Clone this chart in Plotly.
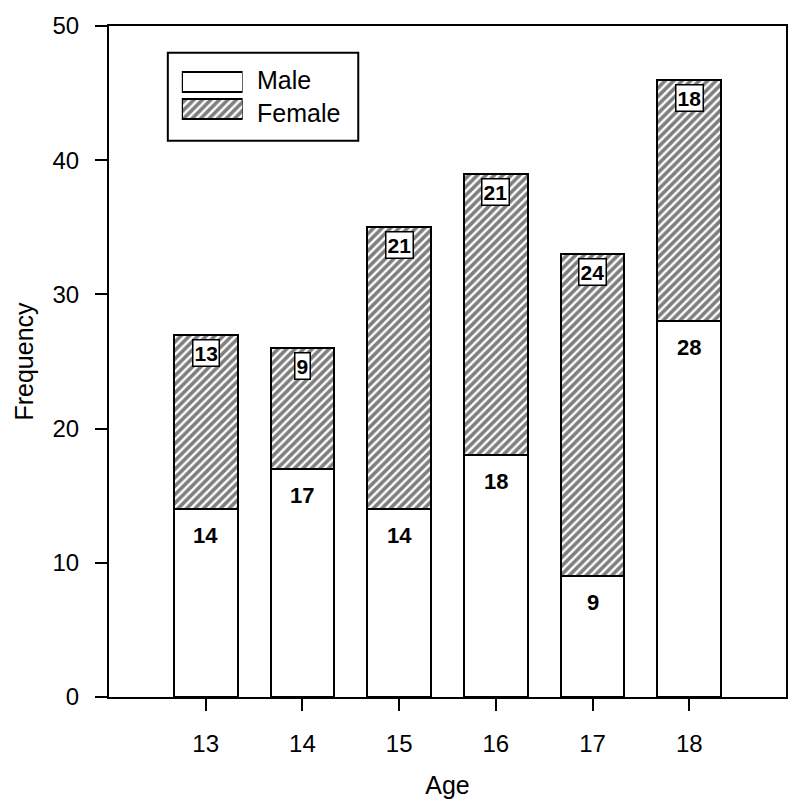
import plotly.graph_objects as go

ages = [13, 14, 15, 16, 17, 18]
male = [14, 17, 14, 18, 9, 28]
female = [13, 9, 21, 21, 24, 18]
legend_names = ["Male", "Female"]
y_ticks = [0, 10, 20, 30, 40, 50]

FONT = "Liberation Sans, Arial, sans-serif"
hatch = dict(shape="/", fgcolor="black", bgcolor="white", size=6, solidity=0.6)

fig = go.Figure()
fig.add_trace(go.Bar(x=ages, y=male, width=0.66, marker=dict(color="white", line=dict(color="black", width=2)),
                     showlegend=False, hoverinfo="skip"))
fig.add_trace(go.Bar(x=ages, y=female, width=0.66,
                     marker=dict(color="white", pattern=hatch, line=dict(color="black", width=2)),
                     showlegend=False, hoverinfo="skip"))

# legend swatches on a small inset axis
fig.add_trace(go.Bar(y=[legend_names[0]], x=[1], orientation="h", width=0.74, xaxis="x2", yaxis="y2",
                     marker=dict(color="white", line=dict(color="black", width=2)), showlegend=False, hoverinfo="skip"))
fig.add_trace(go.Bar(y=[legend_names[1]], x=[1], orientation="h", width=0.74, xaxis="x2", yaxis="y2",
                     marker=dict(color="white", pattern=hatch, line=dict(color="black", width=2)),
                     showlegend=False, hoverinfo="skip"))

annotations = []
for a, m, f in zip(ages, male, female):
    annotations.append(dict(x=a, y=m, xref="x", yref="y", text=f"<b>{m}</b>", showarrow=False,
                            yanchor="top", yshift=-12, font=dict(family=FONT, size=22, color="black")))
    annotations.append(dict(x=a, y=m + f, xref="x", yref="y", text=f"<b>{f}</b>", showarrow=False,
                            yanchor="top", yshift=-4, bgcolor="white", bordercolor="black", borderwidth=1.5,
                            borderpad=1, font=dict(family=FONT, size=21, color="black")))
# legend text
L, B, W, H = 109, 697, 679, 679
def px(x):
    return (x - L) / W
def py(y):
    return (B - y) / H
annotations.append(dict(x=px(255), y=py(73), xref="paper", yref="paper", text=legend_names[0], showarrow=False,
                        xanchor="left", yanchor="middle", font=dict(family=FONT, size=25, color="black")))
annotations.append(dict(x=px(255), y=py(106), xref="paper", yref="paper", text=legend_names[1], showarrow=False,
                        xanchor="left", yanchor="middle", font=dict(family=FONT, size=25, color="black")))

fig.update_layout(
    width=800, height=807,
    margin=dict(l=109, r=12, t=18, b=110),
    paper_bgcolor="white", plot_bgcolor="white",
    barmode="stack", bargap=0,
    font=dict(family=FONT, color="black"),
    annotations=annotations,
    shapes=[dict(type="rect", xref="paper", yref="paper", x0=px(168), x1=px(359), y0=py(134), y1=py(45),
                 line=dict(color="black", width=2), fillcolor="rgba(0,0,0,0)")],
    xaxis=dict(range=[12, 19], tickvals=ages, ticks="outside", ticklen=12, tickwidth=2, tickcolor="black",
               showline=True, linecolor="black", linewidth=2, mirror=True, showgrid=False, zeroline=False,
               tickfont=dict(size=24), ticklabelstandoff=12,
               title=dict(text="Age", font=dict(size=25), standoff=21)),
    yaxis=dict(range=[0, 50], tickvals=y_ticks, ticks="outside", ticklen=12, tickwidth=2, tickcolor="black",
               showline=True, linecolor="black", linewidth=2, mirror=True, showgrid=False, zeroline=False,
               tickfont=dict(size=24), ticklabelstandoff=11,
               title=dict(text="Frequency", font=dict(size=25), standoff=12)),
    xaxis2=dict(domain=[px(182), px(243)], anchor="y2", range=[0, 1], visible=False, fixedrange=True),
    yaxis2=dict(domain=[py(116), py(62)], anchor="x2", range=[1.5, -0.5], visible=False, fixedrange=True,
                type="category", categoryorder="array", categoryarray=legend_names),
)

fig.write_html("out.html", config={"displayModeBar": False},
               post_script="document.body.style.margin='0';document.body.style.overflow='hidden';")
